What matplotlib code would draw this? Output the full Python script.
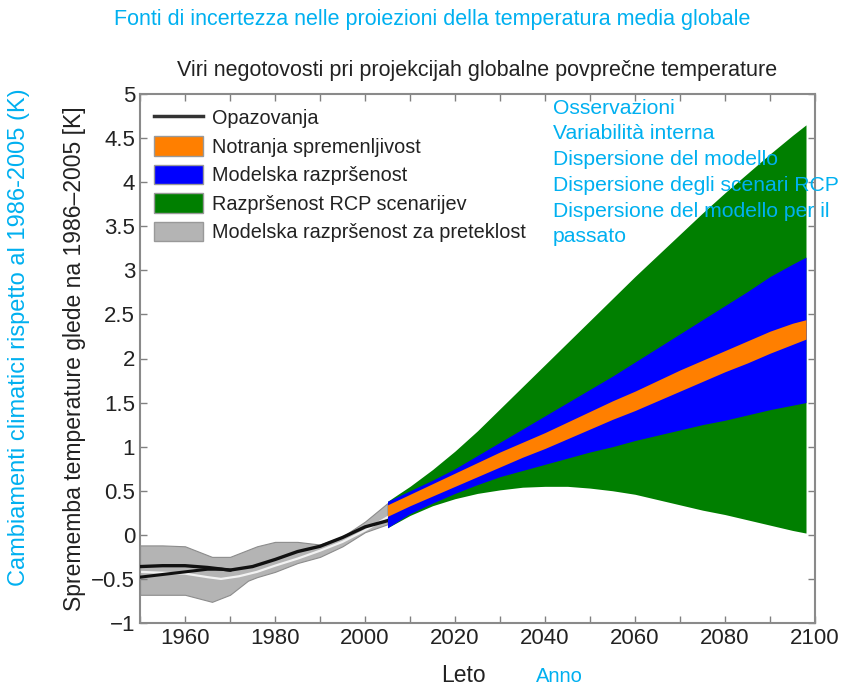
import matplotlib
matplotlib.use("Agg")
import matplotlib.pyplot as plt
from matplotlib.patches import Patch
from matplotlib.lines import Line2D
import numpy as np

plt.rcParams['font.family'] = ['Liberation Sans', 'DejaVu Sans']

# ---------------- data ----------------
# historical model spread (grey band)
hist_years = [1950, 1955, 1960, 1963, 1966, 1970, 1974, 1976, 1980, 1985, 1990, 1995, 2000, 2005]
hist_upper = [-0.12, -0.12, -0.13, -0.19, -0.25, -0.25, -0.17, -0.13, -0.08, -0.08, -0.11, -0.02, 0.15, 0.36]
hist_lower = [-0.68, -0.68, -0.68, -0.72, -0.76, -0.68, -0.52, -0.48, -0.42, -0.32, -0.25, -0.13, 0.03, 0.12]

# model mean (light line inside grey band)
mean_years = [1950, 1955, 1960, 1965, 1968, 1972, 1976, 1980, 1985, 1990, 1995, 2000, 2005]
mean_vals = [-0.42, -0.43, -0.44, -0.48, -0.50, -0.47, -0.42, -0.35, -0.27, -0.18, -0.08, 0.05, 0.20]

# observations (two datasets)
obs_years = [1950, 1955, 1960, 1965, 1970, 1975, 1980, 1985, 1990, 1995, 2000, 2005]
obs_a = [-0.36, -0.35, -0.35, -0.37, -0.40, -0.36, -0.28, -0.19, -0.13, -0.03, 0.09, 0.16]
obs_b_years = [1950, 1955, 1960, 1965, 1968, 1970]
obs_b = [-0.48, -0.45, -0.42, -0.39, -0.39, -0.40]

# projections
proj_years = [2005, 2010, 2015, 2020, 2025, 2030, 2035, 2040, 2045, 2050,
              2055, 2060, 2065, 2070, 2075, 2080, 2085, 2090, 2095, 2098]
rcp_upper = [0.38, 0.55, 0.74, 0.95, 1.18, 1.43, 1.68, 1.93, 2.18, 2.43,
             2.68, 2.93, 3.17, 3.41, 3.65, 3.88, 4.10, 4.32, 4.53, 4.65]
rcp_lower = [0.08, 0.22, 0.33, 0.41, 0.47, 0.51, 0.54, 0.55, 0.55, 0.53,
             0.50, 0.46, 0.40, 0.34, 0.28, 0.23, 0.17, 0.11, 0.05, 0.02]
model_upper = [0.38, 0.50, 0.62, 0.75, 0.90, 1.05, 1.20, 1.35, 1.50, 1.65,
               1.80, 1.96, 2.12, 2.28, 2.44, 2.60, 2.76, 2.93, 3.07, 3.15]
model_lower = [0.08, 0.24, 0.36, 0.47, 0.57, 0.66, 0.73, 0.80, 0.87, 0.94,
               1.00, 1.07, 1.13, 1.19, 1.25, 1.30, 1.36, 1.42, 1.47, 1.50]
int_upper = [0.34, 0.46, 0.58, 0.70, 0.82, 0.94, 1.05, 1.16, 1.28, 1.40,
             1.52, 1.63, 1.75, 1.87, 1.98, 2.09, 2.20, 2.31, 2.40, 2.44]
int_lower = [0.21, 0.33, 0.44, 0.55, 0.66, 0.77, 0.88, 0.98, 1.09, 1.20,
             1.31, 1.41, 1.52, 1.63, 1.74, 1.85, 1.95, 2.06, 2.16, 2.22]

legend_labels = ['Opazovanja', 'Notranja spremenljivost', 'Modelska razpršenost',
                 'Razpršenost RCP scenarijev', 'Modelska razpršenost za preteklost']
it_labels = ['Osservazioni', 'Variabilità interna', 'Dispersione del modello',
             'Dispersione degli scenari RCP', 'Dispersione del modello per il', 'passato']

x_ticks = [1960, 1980, 2000, 2020, 2040, 2060, 2080, 2100]
y_ticks = [-1, -0.5, 0, 0.5, 1, 1.5, 2, 2.5, 3, 3.5, 4, 4.5, 5]
y_ticklabels = ['−1', '−0.5', '0', '0.5', '1', '1.5', '2', '2.5', '3', '3.5', '4', '4.5', '5']

c_orange = '#FF7F00'
c_blue = '#0000FF'
c_green = '#007F00'
c_grey = '#B4B4B4'
c_cyan = '#00B0F0'
c_text = '#222222'

# ---------------- figure ----------------
fig = plt.figure(figsize=(8.43, 6.86), dpi=100)
ax = fig.add_axes([140 / 843, 1 - 623 / 686, 675 / 843, 529 / 686])

ax.fill_between(hist_years, hist_lower, hist_upper, color=c_grey, edgecolor='#8c8c8c', lw=0.8, zorder=1)
ax.plot(mean_years, mean_vals, color='#f2f2f2', lw=1.6, zorder=2)
ax.plot(obs_b_years, obs_b, color='#111111', lw=2.2, zorder=3)
ax.plot(obs_years, obs_a, color='#111111', lw=2.4, zorder=3)

ax.fill_between(proj_years, rcp_lower, rcp_upper, color=c_green, lw=0, zorder=4)
ax.fill_between(proj_years, model_lower, model_upper, color=c_blue, lw=0, zorder=5)
ax.fill_between(proj_years, int_lower, int_upper, color=c_orange, lw=0, zorder=6)

ax.set_xlim(1950, 2100)
ax.set_ylim(-1, 5)
ax.set_xticks(x_ticks)
ax.set_xticks(np.arange(1950, 2101, 10), minor=True)
ax.set_yticks(y_ticks)
ax.set_yticklabels(y_ticklabels)
ax.tick_params(which='both', direction='in', top=True, right=True, color='#808080',
               labelsize=16, labelcolor=c_text, width=1, length=5)
for s in ax.spines.values():
    s.set_color('#8a8a8a')
    s.set_linewidth(1.5)

ax.set_title('Viri negotovosti pri projekcijah globalne povprečne temperature',
             fontsize=15.5, color=c_text, pad=13)
ax.set_xlabel('Leto', fontsize=16.5, color=c_text)
ax.xaxis.set_label_coords((463 - 140) / 675, -(675 - 623) / 529)
ax.xaxis.label.set_va('center')
ax.set_ylabel('Sprememba temperature glede na 1986–2005 [K]', fontsize=16.5, color=c_text, labelpad=4)

handles = [Line2D([0], [0], color='#333333', lw=2.5),
           Patch(facecolor=c_orange, edgecolor='#999999'),
           Patch(facecolor=c_blue, edgecolor='#999999'),
           Patch(facecolor=c_green, edgecolor='#999999'),
           Patch(facecolor=c_grey, edgecolor='#999999')]
leg = ax.legend(handles, legend_labels, loc='upper left', frameon=False, fontsize=14.3,
                handlelength=2.45, handleheight=1.13, handletextpad=0.5, labelspacing=0.4,
                borderaxespad=0.3, labelcolor=c_text)

# Italian overlays
fig.text(432 / 843, 1 - 20 / 686, 'Fonti di incertezza nelle proiezioni della temperatura media globale',
         color=c_cyan, fontsize=15.5, ha='center', va='center')
fig.text(19 / 843, 1 - 337 / 686, 'Cambiamenti climatici rispetto al 1986-2005 (K)',
         color=c_cyan, fontsize=17, ha='center', va='center', rotation=90)
for i, lab in enumerate(it_labels):
    fig.text(553 / 843, 1 - (108 + 25.8 * i) / 686, lab, color=c_cyan, fontsize=15.2,
             ha='left', va='center')
fig.text(559 / 843, 1 - 677 / 686, 'Anno', color=c_cyan, fontsize=14.5, ha='center', va='center')

fig.savefig('out.png', dpi=100)
